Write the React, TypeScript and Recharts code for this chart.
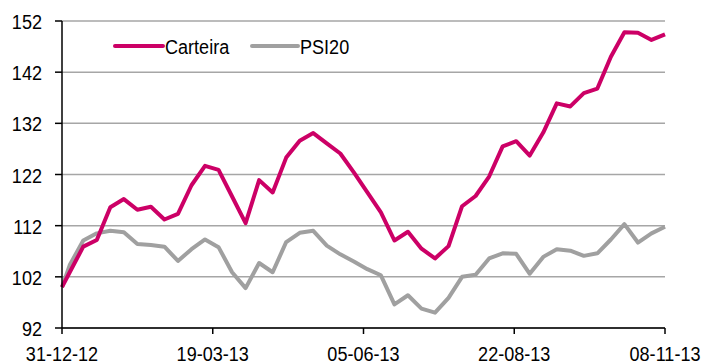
import React from "react";
import { LineChart, Line, XAxis, YAxis, CartesianGrid } from "recharts";

const dates = [
  "2012-12-31", "2013-01-04", "2013-01-11", "2013-01-18", "2013-01-25", "2013-02-01",
  "2013-02-08", "2013-02-15", "2013-02-22", "2013-03-01", "2013-03-08", "2013-03-15",
  "2013-03-22", "2013-03-29", "2013-04-05", "2013-04-12", "2013-04-19", "2013-04-26",
  "2013-05-03", "2013-05-10", "2013-05-17", "2013-05-24", "2013-05-31", "2013-06-07",
  "2013-06-14", "2013-06-21", "2013-06-28", "2013-07-05", "2013-07-12", "2013-07-19",
  "2013-07-26", "2013-08-02", "2013-08-09", "2013-08-16", "2013-08-23", "2013-08-30",
  "2013-09-06", "2013-09-13", "2013-09-20", "2013-09-27", "2013-10-04", "2013-10-11",
  "2013-10-18", "2013-10-25", "2013-11-01", "2013-11-08",
];

const carteira = [
  100, 102.9, 107.9, 109.2, 115.6, 117.2, 115.1, 115.7, 113.2, 114.3, 119.9, 123.7,
  122.9, 117.7, 112.5, 120.9, 118.5, 125.3, 128.6, 130.1, 128.1, 126.1, 122.4, 118.5,
  114.6, 109.1, 110.8, 107.5, 105.6, 108.0, 115.8, 117.8, 121.6, 127.5, 128.5, 125.7,
  130.2, 135.9, 135.3, 137.9, 138.8, 145.0, 149.8, 149.7, 148.3, 149.4,
];

const psi20 = [
  100, 104.3, 109.1, 110.5, 111.0, 110.7, 108.4, 108.2, 107.9, 105.1, 107.4, 109.3,
  107.8, 102.9, 99.8, 104.7, 102.9, 108.8, 110.6, 111.0, 108.1, 106.4, 105.0, 103.5,
  102.3, 96.6, 98.4, 95.8, 95.0, 97.9, 102.0, 102.4, 105.6, 106.6, 106.5, 102.6,
  105.9, 107.4, 107.1, 106.1, 106.6, 109.3, 112.3, 108.7, 110.5, 111.8,
];

const xTickDates = ["2012-12-31", "2013-03-19", "2013-06-05", "2013-08-22", "2013-11-08"];
const xTickLabels = ["31-12-12", "19-03-13", "05-06-13", "22-08-13", "08-11-13"];
const yTicks = [92, 102, 112, 122, 132, 142, 152];
const seriesNames = ["Carteira", "PSI20"];

const PINK = "#CC0066";
const GREY = "#A0A0A0";
const FONT = "'Liberation Sans', Arial, sans-serif";

const dayOf = (s: string) => {
  const [y, m, d] = s.split("-").map(Number);
  return Math.round((Date.UTC(y, m - 1, d) - Date.UTC(2012, 11, 31)) / 86400000);
};

const data = dates.map((d, i) => ({ day: dayOf(d), carteira: carteira[i], psi20: psi20[i] }));
const xTicks = xTickDates.map(dayOf);

const YTick = (props: any) => {
  const { x, y, payload } = props;
  return (
    <text
      transform={`translate(${x},${y + 8}) scale(0.86,1)`}
      textAnchor="end"
      fontSize={21}
      fontFamily={FONT}
      fill="#000"
    >
      {payload.value}
    </text>
  );
};

const XTick = (props: any) => {
  const { x, y, payload } = props;
  const idx = xTicks.indexOf(payload.value);
  return (
    <text
      transform={`translate(${x},${y + 25}) scale(0.86,1)`}
      textAnchor="middle"
      fontSize={21}
      fontFamily={FONT}
      fill="#000"
    >
      {idx >= 0 ? xTickLabels[idx] : ""}
    </text>
  );
};

const LegendOverlay = () => (
  <svg
    width={300}
    height={30}
    style={{ position: "absolute", left: 100, top: 31, overflow: "visible" }}
  >
    <line x1={15} x2={63} y1={15} y2={15} stroke={PINK} strokeWidth={4} strokeLinecap="round" />
    <text transform="translate(65,23) scale(0.86,1)" fontSize={21} fontFamily={FONT} fill="#000">
      {seriesNames[0]}
    </text>
    <line x1={152} x2={198} y1={15} y2={15} stroke={GREY} strokeWidth={4} strokeLinecap="round" />
    <text transform="translate(200,23) scale(0.86,1)" fontSize={21} fontFamily={FONT} fill="#000">
      {seriesNames[1]}
    </text>
  </svg>
);

export default function App() {
  return (
    <div style={{ position: "absolute", left: 0, top: 0, width: 704, height: 363, background: "#fff" }}>
      <LineChart
        width={704}
        height={363}
        data={data}
        margin={{ top: 21, right: 39, bottom: 0, left: 0 }}
      >
        <CartesianGrid horizontal vertical={false} stroke="#A6A6A6" strokeWidth={1.5} />
        <XAxis
          dataKey="day"
          type="number"
          domain={[0, 312]}
          ticks={xTicks}
          interval={0}
          height={35}
          tickSize={6}
          tickLine={{ stroke: "#000", strokeWidth: 1.5 }}
          axisLine={{ stroke: "#000", strokeWidth: 1.5 }}
          tick={<XTick />}
        />
        <YAxis
          type="number"
          domain={[92, 152]}
          ticks={yTicks}
          interval={0}
          width={62}
          tickSize={7}
          tickMargin={13}
          tickLine={{ stroke: "#000", strokeWidth: 1.5 }}
          axisLine={{ stroke: "#000", strokeWidth: 1.5 }}
          tick={<YTick />}
        />
        <Line
          dataKey="psi20"
          name={seriesNames[1]}
          stroke={GREY}
          strokeWidth={4}
          dot={false}
          activeDot={false}
          strokeLinejoin="round"
          isAnimationActive={false}
        />
        <Line
          dataKey="carteira"
          name={seriesNames[0]}
          stroke={PINK}
          strokeWidth={4}
          dot={false}
          activeDot={false}
          strokeLinejoin="round"
          isAnimationActive={false}
        />
      </LineChart>
      <LegendOverlay />
    </div>
  );
}
